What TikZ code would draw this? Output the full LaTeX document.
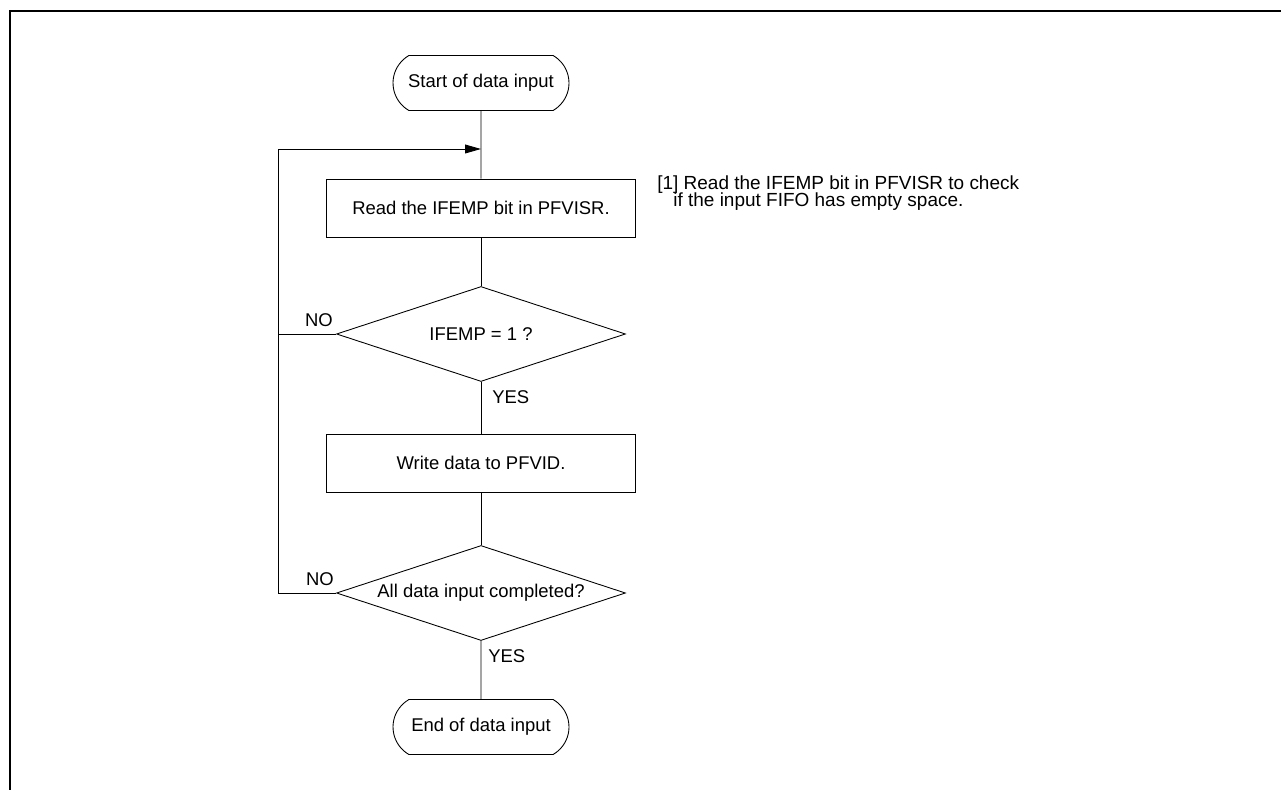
\documentclass[tikz,border=0pt]{standalone}
\usepackage{fontspec}
\setmainfont{Liberation Sans}
\usetikzlibrary{arrows.meta, shapes.geometric, shapes.misc}

\begin{document}
\begin{tikzpicture}[
    x=0.02cm, y=-0.02cm, font=\fontsize{10.5}{12.6}\selectfont,
    term/.style={draw, rounded rectangle, rounded rectangle arc length=120,
                 line width=0.5pt, minimum width=3.52cm, minimum height=1.1cm,
                 inner sep=0pt},
    proc/.style={draw, line width=0.5pt, minimum width=6.18cm,
                 minimum height=1.16cm, inner sep=0pt},
    dec/.style={draw, diamond, aspect=3, line width=0.5pt,
                minimum width=5.78cm, minimum height=1.9cm, inner sep=0pt},
    flow/.style={line width=0.5pt},
    sig/.style={-{Triangle[length=9pt, width=5pt]}, line width=0.5pt},
    lbl/.style={inner sep=0pt},
    note/.style={inner sep=0pt, font=\fontsize{10.8}{13}\selectfont},
    frame/.style={line width=1.2pt},
]
\useasboundingbox (0,0) rectangle (1281,790);

% ===================== Marco =====================
\draw[frame] (10,790) -- (10,11) -- (1281,11);

% ===================== Pasos =====================
\node[term] (start) at (481,83) {Start of data input};
\node[proc] (read)  at (481,208) {Read the IFEMP bit in PFVISR.};
\node[dec]  (chk)   at (481,334) {IFEMP = 1 ?};
\node[proc] (write) at (481,463) {Write data to PFVID.};
\node[dec]  (done)  at (481,593) {All data input completed?};
\node[term] (stop)  at (481,727) {End of data input};

% ===================== Flujo principal =====================
\draw[flow] (start) -- (read);
\draw[flow] (read)  -- (chk);
\draw[flow] (chk)   -- (write);
\draw[flow] (write) -- (done);
\draw[flow] (done)  -- (stop);

\node[lbl, anchor=west] (yes1) at (492,397) {YES};
\node[lbl, anchor=west] (yes2) at (488,656) {YES};

% ===================== Lazo de retorno =====================
\coordinate (loopx) at (278,0);
\coordinate (merge) at (481,149);

\draw[sig] (done.west) -- (done.west -| loopx) |- (merge);
\draw[flow] (chk.west) -- (chk.west -| loopx);

\node[lbl] (no1) at (319,320) {NO};
\node[lbl] (no2) at (320,579) {NO};

% ===================== Nota =====================
\node[note, anchor=base west] (note1) at (657,190)
      {[1] Read the IFEMP bit in PFVISR to check};
\node[note, anchor=base west] (note2) at (673,207)
      {if the input FIFO has empty space.};

\end{tikzpicture}
\end{document}
